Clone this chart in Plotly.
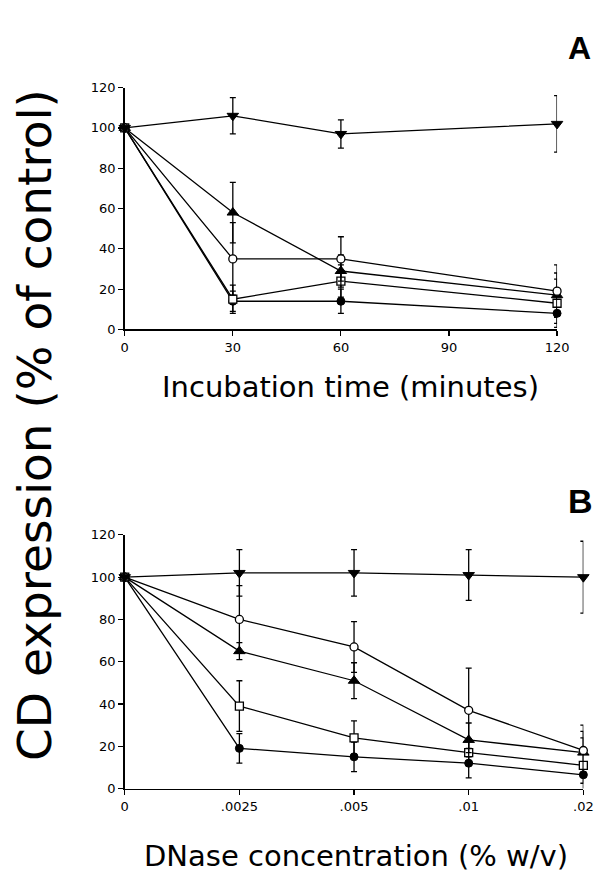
import plotly.graph_objects as go

W, H = 608, 885

# ---------------- Panel A data ----------------
times = [0, 30, 60, 120]
a_down_tri = [100, 106, 97, 102]
a_down_tri_err = [0, 9, 7, 14]
a_up_tri = [100, 58, 29, 17]
a_up_tri_err = [0, 15, 8, 11]
a_open_circ = [100, 35, 35, 19]
a_open_circ_err = [0, 18, 11, 13]
a_open_sq = [100, 15, 24, 13]
a_open_sq_err = [0, 7, 8, 12]
a_fill_circ = [100, 14, 14, 8]
a_fill_circ_err = [0, 5, 6, 5]

# ---------------- Panel B data ----------------
conc = ["0", ".0025", ".005", ".01", ".02"]
b_down_tri = [100, 102, 102, 101, 100]
b_down_tri_err = [0, 11, 11, 12, 17]
b_open_circ = [100, 80, 67, 37, 18]
b_open_circ_err = [0, 16, 12, 20, 12]
b_up_tri = [100, 65, 51, 23, 17]
b_up_tri_err = [0, 4, 8.5, 8, 10]
b_open_sq = [100, 39, 24, 17, 11]
b_open_sq_err = [0, 12, 8, 6, 13]
b_fill_circ = [100, 19, 15, 12, 6.5]
b_fill_circ_err = [0, 7, 7, 7, 4]

yticks = [0, 20, 40, 60, 80, 100, 120]

styles = {
    "down": dict(symbol="triangle-down", size=10, color="black", line=dict(color="black", width=1)),
    "up": dict(symbol="triangle-up", size=10, color="black", line=dict(color="black", width=1)),
    "ocirc": dict(symbol="circle", size=8, color="white", line=dict(color="black", width=1.3)),
    "osq": dict(symbol="square", size=8, color="white", line=dict(color="black", width=1.3)),
    "fcirc": dict(symbol="circle", size=8, color="black", line=dict(color="black", width=1)),
}

fig = go.Figure()

def add(x, y, err, key, xa, ya):
    fig.add_trace(go.Scatter(
        x=x, y=y, mode="lines+markers",
        line=dict(color="black", width=1.3),
        marker=styles[key],
        error_y=dict(type="data", array=err, visible=True, color="black",
                     thickness=1.3, width=3),
        xaxis=xa, yaxis=ya, cliponaxis=False, showlegend=False,
    ))

for y, e, k in [(a_fill_circ, a_fill_circ_err, "fcirc"), (a_open_sq, a_open_sq_err, "osq"),
                (a_up_tri, a_up_tri_err, "up"), (a_open_circ, a_open_circ_err, "ocirc"),
                (a_down_tri, a_down_tri_err, "down")]:
    add(times, y, e, k, "x", "y")

for y, e, k in [(b_fill_circ, b_fill_circ_err, "fcirc"), (b_open_sq, b_open_sq_err, "osq"),
                (b_up_tri, b_up_tri_err, "up"), (b_open_circ, b_open_circ_err, "ocirc"),
                (b_down_tri, b_down_tri_err, "down")]:
    add(conc, y, e, k, "x2", "y2")

tickfont = dict(family="DejaVu Sans", size=13, color="black")
axis_common = dict(showline=True, linecolor="black", linewidth=1.5, ticks="outside",
                   ticklen=5, tickwidth=1.2, tickcolor="black", showgrid=False,
                   zeroline=False, tickfont=tickfont)

def px_x(p):
    return p / W

def px_y(p):
    return 1 - p / H

fig.update_layout(
    width=W, height=H,
    margin=dict(l=0, r=0, t=0, b=0),
    paper_bgcolor="white", plot_bgcolor="white",
    hovermode=False,
    xaxis=dict(domain=[px_x(124), px_x(568)], range=[0, 120], tickvals=[0, 30, 60, 90, 120],
               anchor="y", **axis_common),
    yaxis=dict(domain=[px_y(328), px_y(82)], range=[0, 120], tickvals=yticks,
               anchor="x", **axis_common),
    xaxis2=dict(domain=[px_x(124), px_x(595)], type="category", range=[0, 4],
                categoryorder="array", categoryarray=conc, anchor="y2", **axis_common),
    yaxis2=dict(domain=[px_y(795), px_y(537)], range=[0, 120], tickvals=yticks,
                anchor="x2", **axis_common),
    annotations=[
        dict(text="CD expression (% of control)", x=px_x(32), y=px_y(425), xref="paper", yref="paper",
             textangle=-90, showarrow=False, xanchor="center", yanchor="middle",
             font=dict(family="DejaVu Sans", size=47, color="black")),
        dict(text="Incubation time (minutes)", x=px_x(356), y=px_y(387), xref="paper", yref="paper",
             showarrow=False, xanchor="center", yanchor="middle",
             font=dict(family="DejaVu Sans", size=29, color="black")),
        dict(text="DNase concentration (% w/v)", x=px_x(362), y=px_y(864), xref="paper", yref="paper",
             showarrow=False, xanchor="center", yanchor="middle",
             font=dict(family="DejaVu Sans", size=29, color="black")),
        dict(text="<b>A</b>", x=px_x(591), y=px_y(42), xref="paper", yref="paper",
             showarrow=False, xanchor="center", yanchor="middle",
             font=dict(family="Liberation Sans", size=32, color="black")),
        dict(text="<b>B</b>", x=px_x(592), y=px_y(503), xref="paper", yref="paper",
             showarrow=False, xanchor="center", yanchor="middle",
             font=dict(family="Liberation Sans", size=34, color="black")),
    ],
)

fig.write_html("out.html", config={"displayModeBar": False, "staticPlot": True},
               post_script="document.body.style.margin='0';document.body.style.overflow='hidden';")
